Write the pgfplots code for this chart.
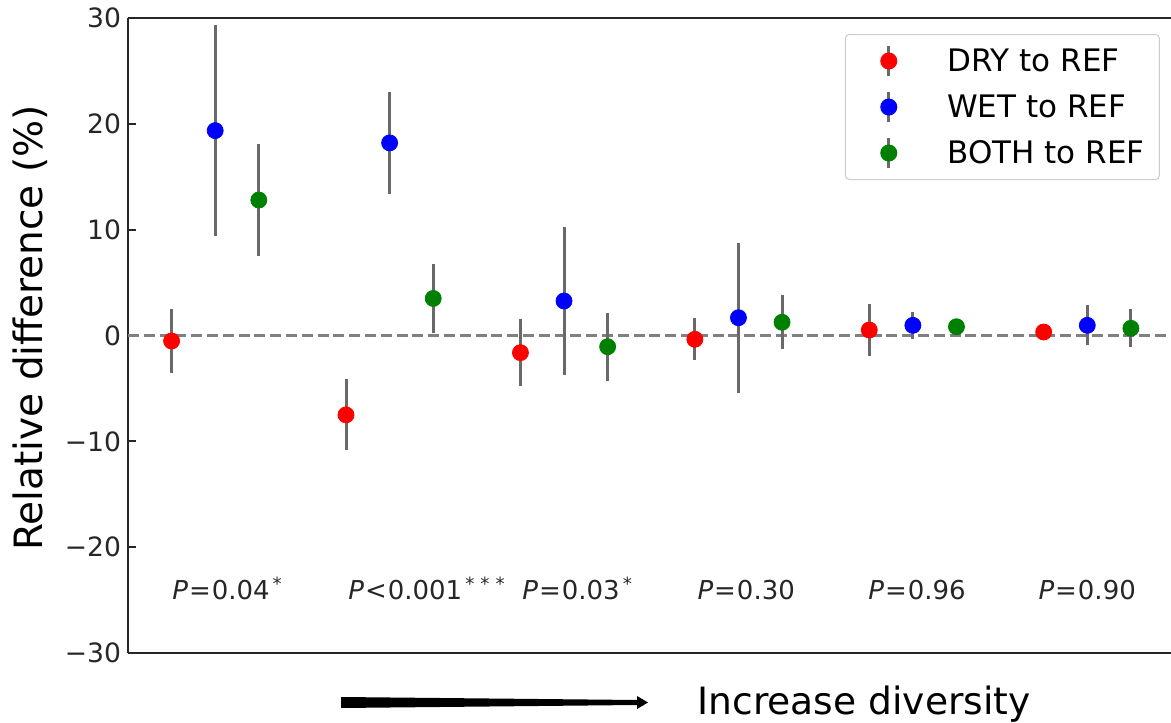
\documentclass[border=0pt]{standalone}
\usepackage{fontspec}
\setmainfont{DejaVu Sans}
\usepackage{pgfplots}
\pgfplotsset{compat=1.18}
\usepackage{pgfplotstable}
\definecolor{errgray}{RGB}{105,105,105}
\definecolor{spine}{RGB}{38,38,38}
\definecolor{mgreen}{RGB}{0,128,0}

\pgfplotstableread{
x y e
0.75 -0.52 3.07
1.75 -7.50 3.35
2.75 -1.62 3.15
3.75 -0.36 2.00
4.75 0.52 2.45
5.75 0.33 0.30
}\dry
\pgfplotstableread{
x y e
1 19.36 10.00
2 18.20 4.85
3 3.26 7.00
4 1.68 7.10
5 0.96 1.26
6 0.96 1.90
}\wet
\pgfplotstableread{
x y e
1.25 12.80 5.30
2.25 3.50 3.25
3.25 -1.06 3.20
4.25 1.25 2.55
5.25 0.83 0.50
6.25 0.68 1.80
}\both

\begin{document}
\begin{tikzpicture}
\begin{axis}[
  scale only axis,
  width=521.5pt, height=317.5pt,
  xmin=0.5, xmax=6.48,
  ymin=-30, ymax=30,
  axis x line=box, axis y line=left,
  x axis line style={-, draw=spine, line width=1pt},
  y axis line style={-, draw=spine, line width=1pt},
  xtick=\empty,
  ytick={-30,-20,-10,0,10,20,30},
  yticklabels={−30,−20,−10,0,10,20,30},
  tick align=inside,
  major tick length=4pt,
  tick style={draw=spine, line width=1pt},
  yticklabel style={font=\fontsize{13.3}{16}\selectfont, text=spine},
  ylabel={Relative difference (\%)},
  ylabel style={at={(axis description cs:-0.0815,0.512)}, anchor=base, rotate=0, font=\fontsize{19.5}{23}\selectfont, text=black},
  legend style={at={(rel axis cs:0.9894,0.9748)}, anchor=north east,
    draw=black!20, line width=0.5pt, rounded corners=2pt,
    fill=white, fill opacity=0.8, text opacity=1,
    inner xsep=7.5pt, inner ysep=5pt,
    row sep=6.5pt,
    font=\fontsize{15.5}{18}\selectfont,
    nodes={inner sep=0pt, text height=13.5pt, text depth=3pt}},
  legend cell align=left,
  legend image code/.code={
    \path (-14pt,0pt) (29pt,0pt);
    \draw[errgray, line width=1.5pt, draw opacity=1] (0pt,-7.5pt) -- (0pt,7.5pt);
    \draw[#1, fill opacity=1, draw opacity=1] plot coordinates {(0pt,0pt)};
  },
  error bars/error bar style={line width=1.5pt, draw=errgray, solid},
  error bars/error mark=none,
]
\coordinate (O) at (rel axis cs:0,0);
\addplot[gray, line width=1.5pt, dash pattern=on 5.5pt off 2.4pt, forget plot] coordinates {(0.5,0) (6.48,0)};
\addplot[only marks, mark=*, mark size=4pt, mark options={draw=red, fill=red},
  error bars/.cd, y dir=both, y explicit] table[x=x, y=y, y error=e] {\dry};
\addlegendentry{DRY to REF}
\addplot[only marks, mark=*, mark size=4pt, mark options={draw=blue, fill=blue},
  error bars/.cd, y dir=both, y explicit] table[x=x, y=y, y error=e] {\wet};
\addlegendentry{WET to REF}
\addplot[only marks, mark=*, mark size=4pt, mark options={draw=mgreen, fill=mgreen},
  error bars/.cd, y dir=both, y explicit] table[x=x, y=y, y error=e] {\both};
\addlegendentry{BOTH to REF}

\node[anchor=base west, inner sep=0pt, font=\fontsize{13}{15}\selectfont, text=spine] at (axis cs:0.752,-24.9) {\textit{P}\kern0.5pt=\kern0.5pt0.04\textsuperscript{\,*}};
\node[anchor=base west, inner sep=0pt, font=\fontsize{13}{15}\selectfont, text=spine] at (axis cs:1.761,-24.9) {\textit{P}\kern0.5pt<\kern0.5pt0.001\textsuperscript{\,*\,\,*\,\,*}};
\node[anchor=base west, inner sep=0pt, font=\fontsize{13}{15}\selectfont, text=spine] at (axis cs:2.759,-24.9) {\textit{P}\kern0.5pt=\kern0.5pt0.03\textsuperscript{\,*}};
\node[anchor=base west, inner sep=0pt, font=\fontsize{13}{15}\selectfont, text=spine] at (axis cs:3.763,-24.9) {\textit{P}\kern0.5pt=\kern0.5pt0.30};
\node[anchor=base west, inner sep=0pt, font=\fontsize{13}{15}\selectfont, text=spine] at (axis cs:4.743,-24.9) {\textit{P}\kern0.5pt=\kern0.5pt0.96};
\node[anchor=base west, inner sep=0pt, font=\fontsize{13}{15}\selectfont, text=spine] at (axis cs:5.718,-24.9) {\textit{P}\kern0.5pt=\kern0.5pt0.90};
\end{axis}
\coordinate (P) at ([shift={(-64pt,326.5pt)}]O);
\fill[shift={(P)}, x=0.5pt, y=-0.5pt] (341,697) -- (637,700) -- (637,696) -- (648,702.5) -- (637,709) -- (637,705) -- (341,708) -- cycle;
\node[anchor=base west, inner sep=0pt, font=\fontsize{18.8}{22}\selectfont, text=black] at ([shift={(348.5pt,-357pt)}]P) {Increase diversity};
\pgfresetboundingbox
\path[use as bounding box] ([shift={(-64pt,-34.5pt)}]O) rectangle ++(585.5pt,361pt);
\end{tikzpicture}
\end{document}
